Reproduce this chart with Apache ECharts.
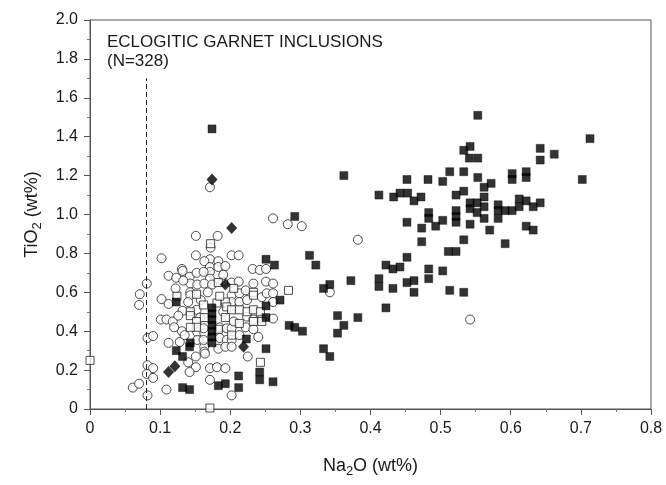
<!DOCTYPE html>
<html><head><meta charset="utf-8">
<script src="https://cdn.jsdelivr.net/npm/echarts@6/dist/echarts.min.js"></script>
<style>html,body{margin:0;padding:0;background:#fff}#c{width:666px;height:485px}</style>
</head><body><div id="c"></div>
<script>
const xTicks = [0, 0.1, 0.2, 0.3, 0.4, 0.5, 0.6, 0.7, 0.8];
const yTicks = [0, 0.2, 0.4, 0.6, 0.8, 1.0, 1.2, 1.4, 1.6, 1.8, 2.0];
const titleLines = ['ECLOGITIC GARNET INCLUSIONS', '(N=328)'];
const dashX = 0.08, dashTop = 1.70;

const filledSquares = [
[0.553,1.51],[0.713,1.39],[0.542,1.35],[0.533,1.33],[0.642,1.34],[0.662,1.31],[0.541,1.29],[0.553,1.29],[0.642,1.28],[0.362,1.20],[0.513,1.22],[0.533,1.22],[0.602,1.21],[0.602,1.18],[0.622,1.22],[0.622,1.19],[0.702,1.18],[0.452,1.18],[0.482,1.18],[0.503,1.17],[0.553,1.19],[0.572,1.16],[0.412,1.10],[0.433,1.09],[0.442,1.11],[0.453,1.11],[0.462,1.07],[0.472,1.09],[0.522,1.10],[0.533,1.12],[0.562,1.14],[0.562,1.09],[0.542,1.06],[0.552,1.06],[0.542,1.03],[0.552,1.01],[0.562,1.04],[0.562,0.98],[0.582,1.05],[0.582,1.02],[0.592,1.02],[0.602,1.02],[0.612,1.08],[0.612,1.04],[0.622,1.07],[0.632,1.04],[0.642,1.06],[0.582,0.98],[0.483,1.01],[0.483,0.98],[0.522,1.02],[0.522,0.99],[0.522,0.96],[0.452,0.96],[0.473,0.93],[0.493,0.94],[0.503,0.97],[0.542,0.95],[0.570,0.92],[0.622,0.94],[0.632,0.92],[0.473,0.86],[0.533,0.87],[0.592,0.85],[0.511,0.81],[0.522,0.81],[0.313,0.79],[0.452,0.78],[0.322,0.74],[0.422,0.74],[0.432,0.72],[0.442,0.73],[0.483,0.72],[0.503,0.71],[0.412,0.67],[0.412,0.63],[0.372,0.66],[0.333,0.62],[0.342,0.64],[0.432,0.62],[0.452,0.65],[0.462,0.66],[0.483,0.67],[0.462,0.60],[0.513,0.61],[0.533,0.60],[0.422,0.52],[0.353,0.48],[0.382,0.47],[0.362,0.43],[0.353,0.39],[0.303,0.40],[0.333,0.31],[0.342,0.27],[0.284,0.43],[0.292,0.42],[0.271,0.56],[0.251,0.53],[0.251,0.47],
[0.174,1.44],[0.292,0.99],[0.251,0.77],[0.263,0.74],[0.123,0.55],[0.174,0.52],[0.174,0.49],[0.174,0.46],[0.174,0.43],[0.174,0.40],[0.174,0.37],[0.174,0.34],[0.223,0.36],[0.143,0.34],[0.142,0.32],[0.123,0.30],[0.132,0.27],[0.251,0.31],[0.242,0.19],[0.242,0.15],[0.212,0.17],[0.261,0.14],[0.183,0.12],[0.193,0.13],[0.212,0.11],[0.132,0.11],[0.142,0.10]
];
const filledDiamonds = [[0.174,1.18],[0.202,0.93],[0.193,0.64],[0.219,0.32],[0.112,0.19],[0.121,0.22]];
const openSquares = [
[0.000,0.25],[0.171,0.005],[0.172,0.85],[0.183,0.65],[0.283,0.61],[0.243,0.24],[0.124,0.58],[0.162,0.535],[0.181,0.545],[0.193,0.55],[0.233,0.60],[0.233,0.585],[0.195,0.525],[0.202,0.51],[0.213,0.51],[0.224,0.50],[0.233,0.51],[0.243,0.50],[0.143,0.50],[0.143,0.48],[0.152,0.45],[0.152,0.42],[0.143,0.42],[0.233,0.45],[0.245,0.45],[0.183,0.41],[0.193,0.47],[0.202,0.38],[0.163,0.47],[0.213,0.44],[0.152,0.59],[0.185,0.58],[0.205,0.62]
];
const openCircles = [
[0.171,1.14],[0.261,0.98],[0.151,0.89],[0.182,0.89],[0.282,0.95],[0.302,0.94],[0.172,0.83],[0.202,0.79],[0.212,0.79],[0.102,0.775],[0.151,0.79],[0.171,0.77],[0.183,0.76],[0.163,0.76],[0.171,0.73],[0.183,0.73],[0.193,0.735],[0.171,0.705],[0.171,0.67],[0.232,0.72],[0.242,0.715],[0.251,0.72],[0.202,0.65],[0.212,0.655],[0.251,0.655],[0.261,0.645],[0.131,0.72],[0.112,0.685],[0.123,0.675],[0.132,0.71],[0.142,0.68],[0.152,0.70],[0.162,0.705],[0.081,0.645],[0.143,0.645],[0.143,0.60],[0.153,0.64],[0.143,0.585],[0.163,0.645],[0.174,0.64],[0.190,0.655],[0.233,0.645],[0.071,0.59],[0.070,0.535],[0.102,0.565],[0.112,0.54],[0.132,0.505],[0.101,0.46],[0.131,0.40],[0.153,0.395],[0.153,0.355],[0.163,0.39],[0.163,0.32],[0.163,0.295],[0.082,0.365],[0.090,0.375],[0.112,0.34],[0.151,0.27],[0.082,0.225],[0.090,0.21],[0.081,0.18],[0.090,0.16],[0.151,0.215],[0.142,0.19],[0.061,0.11],[0.070,0.13],[0.109,0.10],[0.082,0.07],[0.202,0.585],[0.213,0.595],[0.202,0.55],[0.213,0.55],[0.224,0.56],[0.245,0.575],[0.252,0.595],[0.261,0.595],[0.261,0.55],[0.152,0.51],[0.224,0.475],[0.233,0.46],[0.245,0.465],[0.109,0.46],[0.162,0.415],[0.185,0.42],[0.195,0.415],[0.202,0.415],[0.162,0.355],[0.185,0.365],[0.195,0.355],[0.202,0.355],[0.128,0.345],[0.164,0.285],[0.183,0.31],[0.193,0.32],[0.202,0.32],[0.171,0.21],[0.181,0.215],[0.193,0.21],[0.171,0.15],[0.202,0.07],[0.382,0.87],[0.342,0.60],[0.542,0.46],[0.261,0.465],
[0.122,0.62],[0.133,0.66],[0.118,0.45],[0.126,0.48],[0.140,0.55],[0.158,0.56],[0.168,0.60],[0.190,0.50],[0.157,0.47],[0.135,0.38],[0.120,0.42],[0.205,0.45],[0.222,0.42],[0.213,0.38],[0.233,0.41],[0.240,0.37],[0.225,0.27],[0.140,0.24],[0.190,0.69],[0.222,0.61]
];

const fontFam = '"Liberation Sans", Arial, sans-serif';
const ink = '#1a1a1a';
const chart = echarts.init(document.getElementById('c'), null, {renderer: 'canvas'});
const fmt = v => (Math.abs(v) < 1e-9 ? '0' : v.toFixed(1));
const nameRich = {
  a: {fontSize: 18, fontFamily: fontFam, color: ink},
  s: {fontSize: 13, fontFamily: fontFam, color: ink, padding: [10, 0, 0, 0]}
};
chart.setOption({
  animation: false,
  backgroundColor: '#fff',
  grid: {left: 90, right: 15, top: 20, bottom: 76, show: true, borderColor: '#555', borderWidth: 1},
  xAxis: {
    type: 'value', min: xTicks[0], max: xTicks[xTicks.length - 1], interval: 0.1,
    axisLine: {show: true, onZero: false, lineStyle: {color: '#555', width: 1}},
    axisTick: {show: true, length: 6, lineStyle: {color: '#555'}},
    minorTick: {show: true, splitNumber: 2, length: 3, lineStyle: {color: '#777'}},
    splitLine: {show: false},
    axisLabel: {formatter: fmt, fontSize: 16, fontFamily: fontFam, color: ink, margin: 12},
    name: '{a|Na}{s|2}{a|O (wt%)}', nameLocation: 'middle', nameGap: 46,
    nameTextStyle: {rich: nameRich}
  },
  yAxis: {
    type: 'value', min: yTicks[0], max: yTicks[yTicks.length - 1], interval: 0.2,
    axisLine: {show: true, onZero: false, lineStyle: {color: '#555', width: 1}},
    axisTick: {show: true, length: 6, lineStyle: {color: '#555'}},
    minorTick: {show: true, splitNumber: 2, length: 3, lineStyle: {color: '#777'}},
    splitLine: {show: false},
    axisLabel: {formatter: fmt, fontSize: 16, fontFamily: fontFam, color: ink, margin: 12},
    name: '{a|TiO}{s|2}{a| (wt%)}', nameLocation: 'middle', nameGap: 46,
    nameTextStyle: {rich: nameRich}
  },
  graphic: [
    {type: 'text', left: 107, top: 34, style: {text: titleLines[0], fontSize: 17, fontFamily: fontFam, fill: ink}},
    {type: 'text', left: 107, top: 53, style: {text: titleLines[1], fontSize: 17, fontFamily: fontFam, fill: ink}}
  ],
  series: [
    {type: 'scatter', data: openCircles, symbol: 'circle', symbolSize: 9, clip: false,
     itemStyle: {color: '#fff', borderColor: '#222', borderWidth: 1},
     markLine: {silent: true, symbol: 'none', label: {show: false},
       lineStyle: {color: '#222', type: [5, 3], width: 1},
       data: [[{coord: [dashX, 0]}, {coord: [dashX, dashTop]}]]}},
    {type: 'scatter', data: openSquares, symbol: 'rect', symbolSize: 8, clip: false,
     itemStyle: {color: '#fff', borderColor: '#222', borderWidth: 1}},
    {type: 'scatter', data: filledSquares, symbol: 'rect', symbolSize: 8, clip: false,
     itemStyle: {color: '#000', borderColor: '#000', borderWidth: 0.5}},
    {type: 'scatter', data: filledDiamonds, symbol: 'diamond', symbolSize: [11, 12], clip: false,
     itemStyle: {color: '#000'}}
  ]
});
</script></body></html>
